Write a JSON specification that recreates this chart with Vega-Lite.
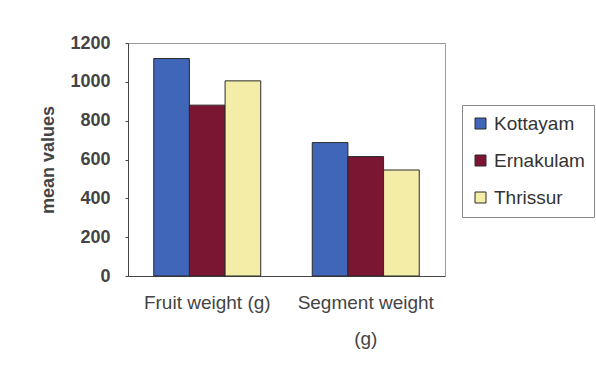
{
  "$schema": "https://vega.github.io/schema/vega-lite/v6.json",
  "width": 317,
  "height": 233,
  "autosize": {"type": "none"},
  "padding": {"left": 128, "top": 43, "right": 151, "bottom": 99},
  "background": "white",
  "data": {
    "values": [
      {"trait": "Fruit weight (g)", "district": "Kottayam", "value": 1120},
      {"trait": "Fruit weight (g)", "district": "Ernakulam", "value": 880},
      {"trait": "Fruit weight (g)", "district": "Thrissur", "value": 1005},
      {"trait": "Segment weight (g)", "district": "Kottayam", "value": 687},
      {"trait": "Segment weight (g)", "district": "Ernakulam", "value": 615},
      {"trait": "Segment weight (g)", "district": "Thrissur", "value": 546}
    ]
  },
  "mark": {"type": "bar", "stroke": "#2a2a2a", "strokeWidth": 1},
  "encoding": {
    "x": {
      "field": "trait",
      "type": "nominal",
      "sort": null,
      "scale": {"paddingInner": 0.325, "paddingOuter": 0.1625},
      "axis": {
        "title": null,
        "labelAngle": 0,
        "ticks": false,
        "domainColor": "#444",
        "labelFont": "Liberation Sans",
        "labelFontSize": 19,
        "labelColor": "#444",
        "labelPadding": 17,
        "labelLineHeight": 36,
        "labelOverlap": false,
        "labelBound": false,
        "labelLimit": 300,
        "labelBaseline": "top",
        "labelExpr": "datum.value == 'Segment weight (g)' ? ['Segment weight', '(g)'] : datum.value"
      }
    },
    "xOffset": {
      "field": "district",
      "type": "nominal",
      "sort": ["Kottayam", "Ernakulam", "Thrissur"],
      "scale": {"paddingInner": 0, "paddingOuter": 0}
    },
    "y": {
      "field": "value",
      "type": "quantitative",
      "scale": {"domain": [0, 1200], "nice": false},
      "axis": {
        "title": "mean values",
        "values": [0, 200, 400, 600, 800, 1000, 1200],
        "format": "d",
        "grid": false,
        "tickSize": 3,
        "tickColor": "#444",
        "domainColor": "#444",
        "labelFont": "Liberation Sans",
        "labelFontSize": 18,
        "labelFontWeight": "bold",
        "labelColor": "#444",
        "labelPadding": 15,
        "titleFont": "Liberation Sans",
        "titleFontSize": 18,
        "titleFontWeight": "bold",
        "titleColor": "#444",
        "titlePadding": 12
      }
    },
    "color": {
      "field": "district",
      "type": "nominal",
      "sort": ["Kottayam", "Ernakulam", "Thrissur"],
      "scale": {
        "domain": ["Kottayam", "Ernakulam", "Thrissur"],
        "range": ["#3f66b8", "#7a1632", "#f4eda8"]
      },
      "legend": {
        "title": null,
        "orient": "none",
        "legendX": 334,
        "legendY": 62,
        "symbolType": "square",
        "symbolSize": 121,
        "symbolStrokeColor": "#2a2a2a",
        "symbolStrokeWidth": 1,
        "labelFont": "Liberation Sans",
        "labelFontSize": 19,
        "labelColor": "#333",
        "labelOffset": 4,
        "rowPadding": 17,
        "padding": 9,
        "strokeColor": "#888",
        "fillColor": "white"
      }
    }
  },
  "config": {
    "view": {"stroke": "#999", "strokeWidth": 1}
  }
}
